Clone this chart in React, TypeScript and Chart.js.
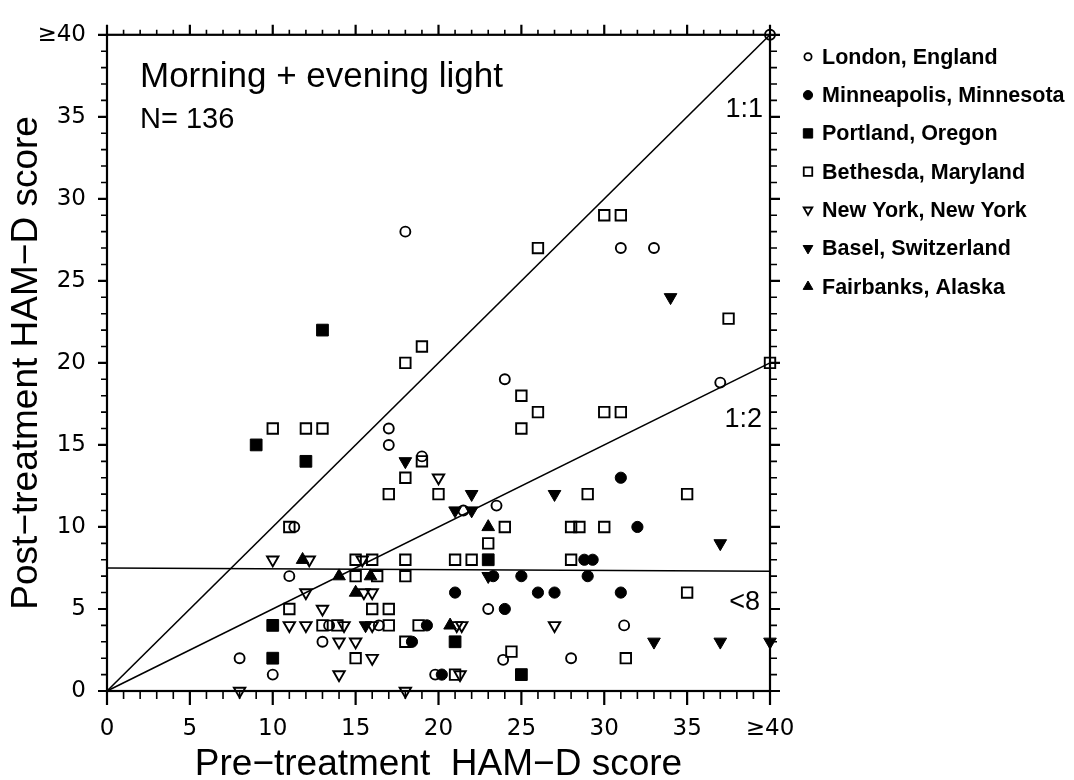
import React, { useEffect, useRef } from 'react';
import { Chart, registerables } from 'chart.js';

Chart.register(...registerables);

type Pt = [number, number];

// ---------- data ----------
const siteLabels = [
  'London, England',
  'Minneapolis, Minnesota',
  'Portland, Oregon',
  'Bethesda, Maryland',
  'New York, New York',
  'Basel, Switzerland',
  'Fairbanks, Alaska',
];

const londonPts: Pt[] = [
  [18, 28], [40, 40], [31, 27], [33, 27], [17, 16], [17, 15], [19, 14.3], [24, 19], [37, 18.8],
  [11.3, 10], [11, 7], [23.5, 11.3], [21.5, 11], [13.4, 4], [16.4, 4], [13, 3], [8, 2], [10, 1],
  [23, 5], [31.2, 4], [23.9, 1.9], [28, 2], [19.8, 1],
];
const minneapolisPts: Pt[] = [
  [31, 13], [32, 10], [28.8, 8], [29.3, 8], [23.3, 7], [25, 7], [29, 7], [21, 6], [26, 6], [27, 6],
  [31, 6], [24, 5], [19.3, 4], [18.4, 3], [20.2, 1],
];
const portlandPts: Pt[] = [[13, 22], [9, 15], [12, 14], [23, 8], [10, 4], [10, 2], [21, 3], [25, 1]];
const bethesdaPts: Pt[] = [
  [30, 29], [31, 29], [26, 27], [19, 21], [18, 20], [37.5, 22.7], [40, 20], [10, 16], [12, 16], [13, 16],
  [25, 18], [26, 17], [25, 16], [30, 17], [31, 17], [19, 14], [18, 13], [17, 12], [20, 12], [29, 12],
  [35, 12], [11, 10], [24, 10], [28, 10], [28.5, 10], [30, 10], [23, 9], [15, 8], [16, 8], [18, 8],
  [21, 8], [22, 8], [28, 8], [15, 7], [16.3, 7], [18, 7], [35, 6], [11, 5], [16, 5], [17, 5],
  [13, 4], [13.9, 4], [17, 4], [18.8, 4], [18, 3], [15, 2], [24.4, 2.4], [31.3, 2], [21, 1],
];
const newYorkPts: Pt[] = [
  [20, 13], [10, 8], [12.2, 8], [15.4, 8], [12, 6], [15.5, 6], [16, 6], [13, 5], [11, 4], [12, 4],
  [14.3, 4], [16, 4], [21.1, 4], [21.4, 4], [27, 4], [14, 3], [15, 3], [16, 2], [14, 1], [21.3, 1],
  [8, 0], [18, 0],
];
const baselPts: Pt[] = [
  [34, 24], [18, 14], [22, 12], [27, 12], [21, 11], [22, 11], [37, 9], [23, 7], [15.6, 4], [33, 3], [37, 3], [40, 3],
];
const fairbanksPts: Pt[] = [[11.8, 8], [14, 7], [15.9, 7], [15, 6], [23, 10], [20.7, 4]];

const identityLine: Pt[] = [[0, 0], [40, 40]];
const halfLine: Pt[] = [[0, 0], [40, 20]];
const remissionLine: Pt[] = [[0, 7.5], [40, 7.3]];

const axisTickValues = [0, 5, 10, 15, 20, 25, 30, 35, 40];
const axisTickLabels = ['0', '5', '10', '15', '20', '25', '30', '35', '≥40'];

const xTitle = 'Pre−treatment  HAM−D score';
const yTitle = 'Post−treatment HAM−D score';
const panelTitle = 'Morning + evening light';
const sampleLabel = 'N= 136';
const lineLabels = ['1:1', '1:2', '<8'];

const SANS = "'Liberation Sans', Arial, Helvetica, sans-serif";
const WIDE = "'DejaVu Sans', 'Liberation Sans', sans-serif";

type MarkerSpec = { style: string; r: number; filled: boolean; rot: number; lr: number };

function drawMarker(ctx: CanvasRenderingContext2D, m: MarkerSpec, x: number, y: number, r: number) {
  ctx.save();
  ctx.beginPath();
  if (m.style === 'circle') {
    ctx.arc(x, y, r, 0, Math.PI * 2);
  } else if (m.style === 'rect') {
    const s = r * Math.SQRT1_2;
    ctx.rect(x - s, y - s, 2 * s, 2 * s);
  } else {
    let a = (m.rot * Math.PI) / 180;
    ctx.moveTo(x + Math.sin(a) * r, y - Math.cos(a) * r);
    a += (2 * Math.PI) / 3;
    ctx.lineTo(x + Math.sin(a) * r, y - Math.cos(a) * r);
    a += (2 * Math.PI) / 3;
    ctx.lineTo(x + Math.sin(a) * r, y - Math.cos(a) * r);
    ctx.closePath();
  }
  if (m.filled) {
    ctx.fillStyle = '#000';
    ctx.fill();
  }
  ctx.strokeStyle = '#000';
  ctx.lineWidth = m.filled ? 1 : 1.8;
  ctx.stroke();
  ctx.restore();
}

export default function App() {
  const ref = useRef<HTMLCanvasElement>(null);

  useEffect(() => {
    const canvas = ref.current;
    if (!canvas) return;

    const markers: MarkerSpec[] = [
      { style: 'circle', r: 5, filled: false, rot: 0, lr: 3.6 },
      { style: 'circle', r: 5.6, filled: true, rot: 0, lr: 4.6 },
      { style: 'rect', r: 8.3, filled: true, rot: 0, lr: 6.6 },
      { style: 'rect', r: 7.4, filled: false, rot: 0, lr: 6 },
      { style: 'triangle', r: 6.6, filled: false, rot: 180, lr: 5 },
      { style: 'triangle', r: 7.3, filled: true, rot: 180, lr: 5.6 },
      { style: 'triangle', r: 7.3, filled: true, rot: 0, lr: 5.6 },
    ];
    const seriesData = [londonPts, minneapolisPts, portlandPts, bethesdaPts, newYorkPts, baselPts, fairbanksPts];

    const scatterSets = seriesData.map((pts, i) => {
      const m = markers[i];
      return {
        type: 'scatter' as const,
        label: siteLabels[i],
        data: pts.map(([x, y]) => ({ x, y })),
        pointStyle: m.style,
        pointRadius: m.r,
        pointHoverRadius: m.r,
        pointRotation: m.rot,
        pointBackgroundColor: m.filled ? '#000' : 'rgba(0,0,0,0)',
        pointBorderColor: '#000',
        pointBorderWidth: m.filled ? 1 : 1.9,
        showLine: false,
        clip: false as any,
        order: 1,
      };
    });

    const lineSets = [identityLine, halfLine, remissionLine].map((pts) => ({
      type: 'scatter' as const,
      label: '',
      data: pts.map(([x, y]) => ({ x, y })),
      showLine: true,
      borderColor: '#000',
      borderWidth: 1.6,
      pointRadius: 0,
      pointHoverRadius: 0,
      fill: false,
      tension: 0,
      clip: false as any,
      order: 2,
    }));

    const labelFor = (v: number | string) => {
      const idx = axisTickValues.indexOf(Number(v));
      return idx >= 0 ? axisTickLabels[idx] : '';
    };

    const framePlugin = {
      id: 'framePlugin',
      beforeDatasetsDraw(chart: any) {
        const ctx: CanvasRenderingContext2D = chart.ctx;
        const xs = chart.scales.x;
        const ys = chart.scales.y;
        const { left, right, top, bottom } = chart.chartArea;
        ctx.save();
        ctx.strokeStyle = '#000';
        ctx.lineWidth = 2.2;
        ctx.strokeRect(left, top, right - left, bottom - top);
        for (let v = xs.min; v <= xs.max; v++) {
          const major = v % 5 === 0;
          const px = xs.getPixelForValue(v);
          ctx.lineWidth = major ? 2.2 : 1.6;
          ctx.beginPath();
          ctx.moveTo(px, bottom);
          ctx.lineTo(px, bottom + (major ? 14 : 8));
          ctx.moveTo(px, top);
          ctx.lineTo(px, top - (major ? 10 : 5));
          ctx.stroke();
        }
        for (let v = ys.min; v <= ys.max; v++) {
          const major = v % 5 === 0;
          const py = ys.getPixelForValue(v);
          ctx.lineWidth = major ? 2.2 : 1.6;
          ctx.beginPath();
          ctx.moveTo(left, py);
          ctx.lineTo(left - (major ? 9 : 6), py);
          ctx.moveTo(right, py);
          ctx.lineTo(right + (major ? 10 : 7), py);
          ctx.stroke();
        }
        ctx.restore();
      },
      afterDraw(chart: any) {
        const ctx: CanvasRenderingContext2D = chart.ctx;
        const { left, right, top } = chart.chartArea;
        ctx.save();
        ctx.fillStyle = '#000';
        ctx.textBaseline = 'alphabetic';
        ctx.textAlign = 'left';
        ctx.font = `35px ${SANS}`;
        ctx.fillText(panelTitle, left + 33, top + 52);
        ctx.font = `29px ${SANS}`;
        ctx.fillText(sampleLabel, left + 33, top + 93);
        ctx.textAlign = 'right';
        ctx.font = `27px ${SANS}`;
        ctx.fillText(lineLabels[0], right - 7, top + 82);
        ctx.fillText(lineLabels[1], right - 8, top + 392);
        ctx.fillText(lineLabels[2], right - 10, top + 575);

        // legend
        const lx = right + 38;
        const tx = right + 52;
        const y0 = top + 22;
        const dy = 38.3;
        ctx.textAlign = 'left';
        ctx.textBaseline = 'middle';
        ctx.font = `bold 21.5px ${SANS}`;
        siteLabels.forEach((lab, i) => {
          const y = y0 + i * dy;
          drawMarker(ctx, markers[i], lx, y, markers[i].lr);
          ctx.fillStyle = '#000';
          ctx.fillText(lab, tx, y + 1);
        });
        ctx.restore();
      },
    };

    const chart = new Chart(canvas, {
      type: 'scatter',
      data: { datasets: [...lineSets, ...scatterSets] as any },
      options: {
        responsive: true,
        maintainAspectRatio: false,
        animation: false,
        layout: { padding: { top: 23, right: 304, bottom: 0, left: 0 } },
        plugins: {
          legend: { display: false },
          tooltip: { enabled: false },
        },
        scales: {
          x: {
            type: 'linear',
            min: 0,
            max: 40,
            afterFit: (s: any) => {
              s.height = 89;
            },
            grid: { display: false, drawTicks: false },
            border: { display: false },
            ticks: {
              stepSize: 5,
              autoSkip: false,
              maxRotation: 0,
              padding: 24,
              color: '#000',
              font: { family: WIDE, size: 23 },
              callback: (v: any) => labelFor(v),
            },
            title: {
              display: true,
              text: xTitle,
              color: '#000',
              font: { family: SANS, size: 37, lineHeight: 0.8 },
              padding: { top: 0, bottom: 0 },
            },
          },
          y: {
            type: 'linear',
            min: 0,
            max: 40,
            afterFit: (s: any) => {
              s.width = 107;
            },
            grid: { display: false, drawTicks: false },
            border: { display: false },
            ticks: {
              stepSize: 5,
              autoSkip: false,
              padding: 21,
              color: '#000',
              font: { family: WIDE, size: 23 },
              callback: (v: any) => labelFor(v),
            },
            title: {
              display: true,
              text: yTitle,
              color: '#000',
              font: { family: SANS, size: 37, lineHeight: 0.8 },
              padding: { top: 12, bottom: 0 },
            },
          },
        },
      } as any,
      plugins: [framePlugin],
    });

    return () => chart.destroy();
  }, []);

  return (
    <div style={{ position: 'fixed', left: 0, top: 0, width: 1074, height: 780, background: '#fff' }}>
      <canvas ref={ref} />
    </div>
  );
}
